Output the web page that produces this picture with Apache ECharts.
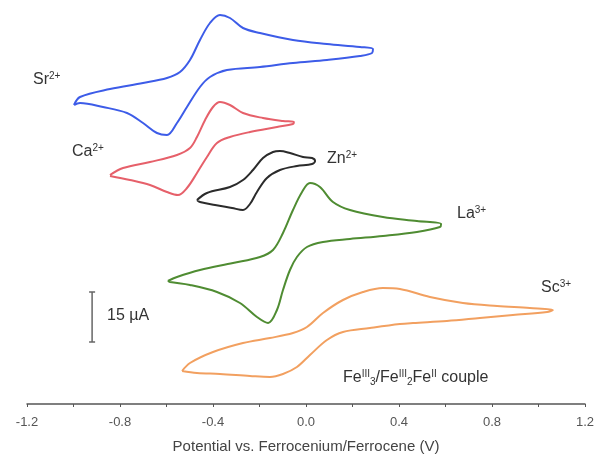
<!DOCTYPE html>
<html>
<head>
<meta charset="utf-8">
<script src="https://cdn.jsdelivr.net/npm/echarts@6/dist/echarts.min.js"></script>
<style>
html,body{margin:0;padding:0;background:#fff;}
#chart{width:596px;height:456px;}
</style>
</head>
<body>
<div id="chart"></div>
<script>
// Potential (V vs Fc+/Fc) and vertically offset current (µA)
const potentialSr = [-0.998,-0.972,-0.843,-0.701,-0.598,-0.542,-0.499,-0.456,-0.413,-0.370,-0.327,-0.271,-0.198,-0.056,0.090,0.232,0.288,0.284,0.232,0.090,-0.056,-0.198,-0.340,-0.413,-0.456,-0.512,-0.555,-0.598,-0.641,-0.701,-0.770,-0.873,-0.972,-0.998];
const currentSr   = [89.7,92.1,94.5,96.3,97.8,99.6,103.2,109.2,114.3,116.7,115.8,112.8,111.3,109.2,108.0,107.1,106.5,105.3,104.4,103.2,102.3,101.1,100.2,98.1,95.1,89.1,84.3,80.7,81.3,84.3,87.3,89.1,90.3,89.7];

const potentialCa = [-0.843,-0.787,-0.671,-0.555,-0.499,-0.469,-0.434,-0.400,-0.370,-0.327,-0.271,-0.185,-0.099,-0.052,-0.056,-0.125,-0.241,-0.327,-0.383,-0.426,-0.469,-0.512,-0.551,-0.598,-0.671,-0.757,-0.843];
const currentCa   = [68.7,70.8,72.6,74.7,76.8,80.1,85.2,89.1,90.6,89.7,87.3,85.8,84.9,84.6,84.0,83.1,81.6,80.1,78.3,74.1,69.3,64.8,62.7,63.6,65.7,67.2,68.4];

const potentialZn = [-0.469,-0.426,-0.327,-0.271,-0.228,-0.185,-0.142,-0.112,-0.069,-0.013,0.026,0.039,0.026,-0.039,-0.112,-0.168,-0.211,-0.241,-0.271,-0.318,-0.391,-0.456,-0.469];
const currentZn   = [61.2,63.3,65.1,67.2,70.2,73.8,75.6,75.9,75.3,74.1,73.8,72.9,72.0,71.4,70.2,67.8,63.6,60.0,58.2,58.8,59.7,60.6,61.2];

const potentialLa = [-0.594,-0.555,-0.456,-0.314,-0.198,-0.142,-0.099,-0.056,-0.017,0.017,0.060,0.116,0.189,0.331,0.477,0.581,0.576,0.477,0.331,0.189,0.073,0.004,-0.039,-0.069,-0.099,-0.125,-0.163,-0.211,-0.284,-0.383,-0.499,-0.585,-0.594];
const currentLa   = [36.9,38.1,40.2,42.3,44.1,46.2,51.3,58.2,63.6,66.3,65.1,60.6,58.2,56.1,54.9,54.0,53.1,51.6,50.4,49.5,48.6,47.1,44.1,40.2,34.2,28.2,24.3,26.1,30.3,33.6,35.7,36.6,36.9];

const potentialSc = [-0.533,-0.499,-0.400,-0.271,-0.155,-0.056,0.004,0.073,0.159,0.245,0.331,0.404,0.533,0.675,0.822,0.963,1.062,1.037,0.890,0.748,0.606,0.460,0.404,0.275,0.159,0.090,0.017,-0.039,-0.099,-0.155,-0.241,-0.370,-0.469,-0.533];
const currentSc   = [9.9,12.3,15.6,18.3,19.8,21.3,23.1,27.3,31.2,33.6,34.8,34.5,32.1,30.3,29.4,28.8,28.2,27.6,26.7,25.8,24.9,24.3,24.0,22.8,21.6,19.2,14.7,11.1,9.0,8.1,8.4,9.0,9.3,9.9];

// 15 µA scale bar
const scaleBarPotential = [-0.92,-0.92];
const scaleBarCurrent   = [18.6,33.6];

const xTickLabels = ['-1.2','-0.8','-0.4','0.0','0.4','0.8','1.2'];

function zip(xs, ys){ return xs.map((x,i)=>[x, ys[i]]); }

const curves = [
  {name:'Sr2+', x:potentialSr, y:currentSr, color:'#3d5ce8'},
  {name:'Ca2+', x:potentialCa, y:currentCa, color:'#e6606a'},
  {name:'Zn2+', x:potentialZn, y:currentZn, color:'#2b2b2b'},
  {name:'La3+', x:potentialLa, y:currentLa, color:'#4f8c32'},
  {name:'Sc3+', x:potentialSc, y:currentSc, color:'#f2a060'}
];

const series = curves.map(c => ({
  type:'line', name:c.name, data:zip(c.x, c.y), showSymbol:false, smooth:0.35,
  lineStyle:{color:c.color, width:2}, itemStyle:{color:c.color}, animation:false, silent:true
}));
series.push({
  type:'line', name:'scale', data:zip(scaleBarPotential, scaleBarCurrent),
  symbol:'rect', symbolSize:[6,1.5], showSymbol:true,
  lineStyle:{color:'#666', width:1.5}, itemStyle:{color:'#666'}, animation:false, silent:true
});

const supRich = {
  b:{fontSize:16, lineHeight:18, fontFamily:'Liberation Sans, Arial', color:'#333'},
  sup:{fontSize:10, lineHeight:8, verticalAlign:'top', fontFamily:'Liberation Sans, Arial', color:'#333'},
  sub:{fontSize:10, lineHeight:8, verticalAlign:'bottom', fontFamily:'Liberation Sans, Arial', color:'#333'}
};
function lbl(text, left, top){
  return {type:'text', left:left, top:top, style:{text:text, rich:supRich, fill:'#333', font:'16px Liberation Sans'}};
}

const chart = echarts.init(document.getElementById('chart'));
chart.setOption({
  animation:false,
  grid:{left:27, right:11, top:0, bottom:52, containLabel:false, outerBoundsMode:'none'},
  xAxis:{
    type:'value', min:-1.2, max:1.2, interval:0.4,
    name:'Potential vs. Ferrocenium/Ferrocene (V)', nameLocation:'middle', nameGap:35,
    nameTextStyle:{fontSize:15, color:'#444', fontFamily:'Liberation Sans, Arial'},
    axisLine:{show:true, onZero:false, lineStyle:{color:'#555', width:1.5}},
    axisTick:{show:true, length:3, lineStyle:{color:'#555'}},
    minorTick:{show:true, splitNumber:2, length:3, lineStyle:{color:'#555'}},
    splitLine:{show:false},
    axisLabel:{fontSize:13, color:'#555', margin:12, fontFamily:'Liberation Sans, Arial',
      formatter:(v, i)=> xTickLabels[i] !== undefined ? xTickLabels[i] : v.toFixed(1)}
  },
  yAxis:{type:'value', min:0, max:121.2, show:false},
  series:series,
  graphic:[
    lbl('{b|Sr}{sup|2+}', 33, 71),
    lbl('{b|Ca}{sup|2+}', 72, 143),
    lbl('{b|Zn}{sup|2+}', 327, 150),
    lbl('{b|La}{sup|3+}', 457, 205),
    lbl('{b|Sc}{sup|3+}', 541, 279),
    lbl('{b|15 µA}', 107, 308),
    lbl('{b|Fe}{sup|III}{sub|3}{b|/Fe}{sup|III}{sub|2}{b|Fe}{sup|II}{b| couple}', 343, 369)
  ]
});
</script>
</body>
</html>
